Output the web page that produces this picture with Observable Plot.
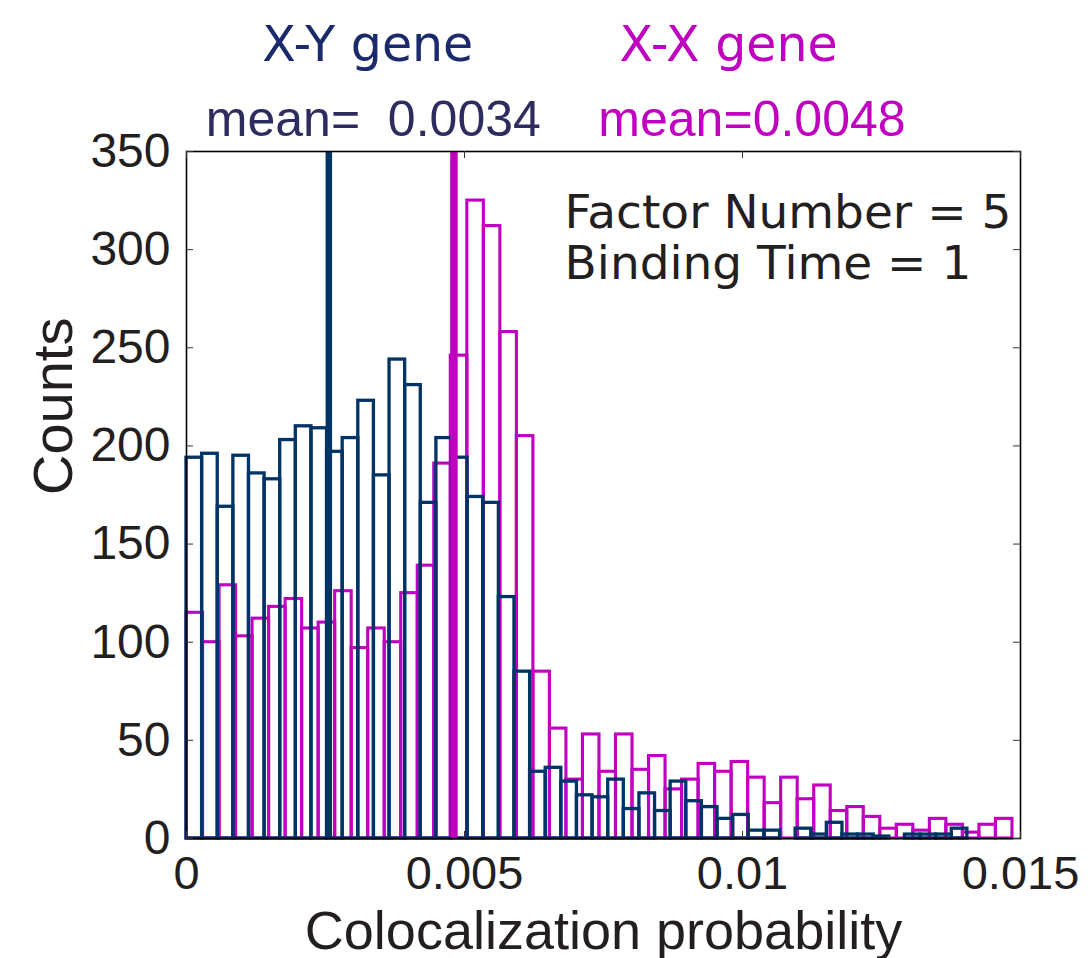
<!DOCTYPE html>
<html>
<head>
<meta charset="utf-8">
<script src="https://cdn.jsdelivr.net/npm/d3@7"></script>
<script src="https://cdn.jsdelivr.net/npm/@observablehq/plot@0.6"></script>
<style>
  body { margin: 0; background: #ffffff; }
  #chart svg { display: block; }
</style>
</head>
<body>
<div id="chart"></div>
<script>
// ---- data ----
const seriesNames = ["X-Y gene", "X-X gene"];
const meanLabels = ["mean=\u00a0 0.0034", "mean=0.0048"];
const noteLines = ["Factor Number = 5", "Binding Time = 1"];

// counts per bin (50 bins each, both starting at 0)
const xyCounts = [194,196,169,195,186,183,203,210,209,197,
                  204,223,185,244,231,171,204,194,174,171,
                  123,85,34,36,29,22,21,30,15,23,
                  14,29,19,16,10,12,4,4,0,5,
                  2,8,2,2,1,0,2,2,2,5];
const xxCounts = [115,100,129,103,112,118,122,107,110,126,
                  97,107,100,125,139,191,246,325,312,258,
                  205,85,56,30,53,34,53,35,42,25,
                  30,38,34,39,31,18,31,20,27,14,
                  16,11,5,7,4,10,7,3,7,10];
const xyBinWidth = 0.0002809;
const xxBinWidth = 0.0002971;
const xyMeanLine = 0.00256;
const xxMeanLine = 0.00481;

const xTicks = [0, 0.005, 0.01, 0.015];
const xTickLabels = ["0", "0.005", "0.01", "0.015"];
const yTicks = [0, 50, 100, 150, 200, 250, 300, 350];

// annotation anchors in data units
const titleX = [0.00326, 0.00975];
const meanX = [0.00336, 0.01017];
const titleY = 396;
const meanY = 358;
const noteX = 0.00680;
const noteY = [311, 285];

const blue = "#003366";
const magenta = "#C000C0";
const ink = "#231F20";

const W = 1091, H = 958, ML = 186, MR = 71, MT = 151, MB = 120;
const frameW = W - ML - MR, frameH = H - MT - MB, tickLen = 7;

const toBins = (counts, w, series) => counts.map((c, i) => ({series, x1: i * w, x2: (i + 1) * w, count: c}));
const xyBins = toBins(xyCounts, xyBinWidth, seriesNames[0]);
const xxBins = toBins(xxCounts, xxBinWidth, seriesNames[1]);

const titles = seriesNames.map((s, i) => ({text: s, x: titleX[i], y: titleY, color: i === 0 ? "#1B2A6B" : magenta}));
const means = meanLabels.map((s, i) => ({text: s, x: meanX[i], y: meanY, color: i === 0 ? "#2E2B5F" : magenta}));
const notes = noteLines.map((s, i) => ({text: s, x: noteX, y: noteY[i]}));

const chart = Plot.plot({
  width: W,
  height: H,
  marginLeft: ML,
  marginRight: MR,
  marginTop: MT,
  marginBottom: MB,
  style: {fontFamily: "'Liberation Sans', Arial, sans-serif", color: ink, background: "#ffffff"},
  x: {domain: [0, 0.015], label: null},
  y: {domain: [0, 350], label: null},
  marks: [
    Plot.rectY(xxBins, {x1: "x1", x2: "x2", y1: 0, y2: "count", fill: "none", stroke: magenta, strokeWidth: 3.1}),
    Plot.rectY(xyBins, {x1: "x1", x2: "x2", y1: 0, y2: "count", fill: "none", stroke: blue, strokeWidth: 3.3}),
    Plot.ruleX([xyMeanLine], {stroke: blue, strokeWidth: 6.5}),
    Plot.ruleX([xxMeanLine], {stroke: magenta, strokeWidth: 7.5}),
    Plot.frame({stroke: "#000", strokeWidth: 1.6}),
    // axes: inward ticks with labels outside
    Plot.axisX({anchor: "bottom", ticks: xTicks, tickSize: -tickLen, tickPadding: 17 + tickLen, tickFormat: (d, i) => xTickLabels[i], fontSize: 47, label: null, stroke: "#333"}),
    Plot.axisY({anchor: "left", ticks: yTicks, tickSize: -tickLen, tickPadding: 16 + tickLen, fontSize: 48, label: null, stroke: "#333"}),
    // inward ticks on top and right (no labels)
    Plot.tickX(xTicks, {x: d => d, insetBottom: frameH - tickLen, stroke: "#333"}),
    Plot.tickY(yTicks, {y: d => d, insetLeft: frameW - tickLen, stroke: "#333"}),
    // axis titles
    Plot.text(["Colocalization probability"], {frameAnchor: "bottom", dy: 110, lineAnchor: "bottom", fontSize: 54, fill: ink}),
    Plot.text(["Counts"], {frameAnchor: "left", dx: -115, rotate: -90, lineAnchor: "bottom", fontSize: 56, fill: ink}),
    // headers
    Plot.text(titles, {x: "x", y: "y", text: "text", fill: "color", fontSize: 49, lineAnchor: "bottom", fontFamily: "'DejaVu Sans', sans-serif"}),
    Plot.text(means, {x: "x", y: "y", text: "text", fill: "color", fontSize: 50, lineAnchor: "bottom"}),
    // annotation
    Plot.text(notes, {x: "x", y: "y", text: "text", fill: ink, fontSize: 47, textAnchor: "start", lineAnchor: "bottom", fontFamily: "'DejaVu Sans', sans-serif"})
  ]
});
document.getElementById("chart").appendChild(chart);
</script>
</body>
</html>
